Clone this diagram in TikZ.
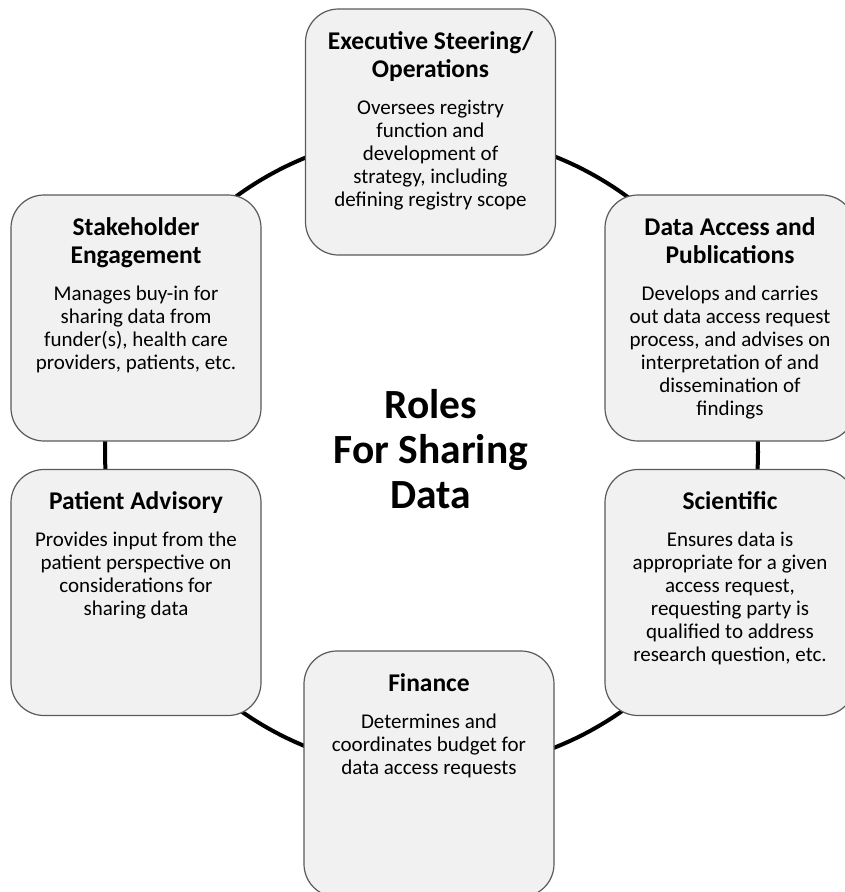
\documentclass[tikz,border=0pt]{standalone}
\usepackage{fontspec}
\setmainfont{Carlito}
\definecolor{boxgray}{HTML}{F1F1F1}
\definecolor{boxline}{HTML}{5A5A5A}
\newcommand\rolehead{\fontsize{25.5}{28}\bfseries\selectfont}
\newcommand\rolebody{\fontsize{21}{23}\mdseries\selectfont}
% title and description of one role, top aligned in its box
\newcommand\roletext[2]{\parbox[t]{246pt}{\centering\rolehead #1\par\vspace{14pt}\rolebody #2\par}}
\begin{document}
\begin{tikzpicture}[x=1pt,y=-1pt,
  ring/.style={draw=black,line width=4pt},
  rolebox/.style={draw=boxline,line width=1.2pt,fill=boxgray,rounded corners=33pt,
    minimum width=250pt,minimum height=246pt,inner sep=0pt},
  rolelabel/.style={anchor=base,inner sep=0pt},
  centretitle/.style={anchor=base,inner sep=0pt}]
  \fill[white] (0,0) rectangle (845,892);
  \useasboundingbox (0,0) rectangle (845,892);

  % the ring linking the roles
  \coordinate (ringc) at (431.5,452);
  \draw[ring] (ringc) ellipse [x radius=326.5pt, y radius=319pt];

  % role boxes
  \node[rolebox] (exec)  at (430.5,132) {};
  \node[rolebox] (stake) at (136,318) {};
  \node[rolebox] (data)  at (730,318) {};
  \node[rolebox] (pat)   at (136,592.5) {};
  \node[rolebox] (sci)   at (730,592.5) {};
  \node[rolebox] (fin)   at (429,774) {};

  % role texts
  \node[rolelabel] (exec-t) at (430.5,49)
    {\roletext{Executive Steering/\\Operations}{Oversees registry\\function and\\development of\\strategy, including\\defining registry scope}};
  \node[rolelabel] (stake-t) at (136,235)
    {\roletext{Stakeholder\\Engagement}{Manages buy-in for\\sharing data from\\funder(s), health care\\providers, patients, etc.}};
  \node[rolelabel] (data-t) at (730,235)
    {\roletext{Data Access and\\Publications}{Develops and carries\\out data access request\\process, and advises on\\interpretation of and\\dissemination of\\findings}};
  \node[rolelabel] (pat-t) at (136,509.5)
    {\roletext{Patient Advisory}{Provides input from the\\patient perspective on\\considerations for\\sharing data}};
  \node[rolelabel] (sci-t) at (730,509.5)
    {\roletext{Scientific}{Ensures data is\\appropriate for a given\\access request,\\requesting party is\\qualified to address\\research question, etc.}};
  \node[rolelabel] (fin-t) at (429,691)
    {\roletext{Finance}{Determines and\\coordinates budget for\\data access requests}};

  % centre title
  \node[centretitle] (roles) at (431,418)
    {\parbox[t]{260pt}{\centering\fontsize{41.5}{45}\bfseries\selectfont Roles\\For Sharing\\Data}};
\end{tikzpicture}
\end{document}
